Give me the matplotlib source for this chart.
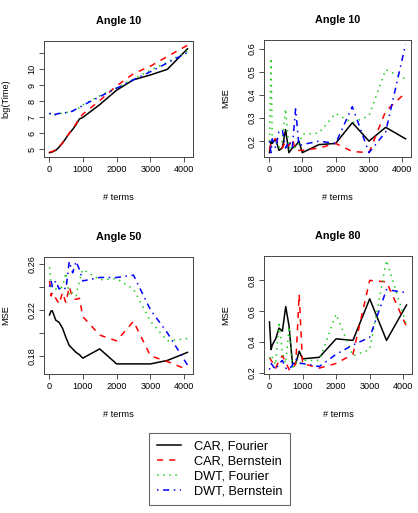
import matplotlib
matplotlib.use("Agg")
import matplotlib.pyplot as plt

plt.rcParams['font.family'] = ['Liberation Sans', 'DejaVu Sans']

terms = [16, 64, 100, 200, 300, 400, 500, 600, 700, 800, 900, 1000, 1500, 2000, 2500, 3000, 3500, 4096]
series_labels = ["CAR, Fourier", "CAR, Bernstein", "DWT, Fourier", "DWT, Bernstein"]

# Panel 1: Angle 10, log(Time)
time_car_fourier = [4.8, 4.82, 4.85, 4.95, 5.15, 5.4, 5.7, 6.0, 6.25, 6.55, 6.9, 7.0, 7.8, 8.7, 9.35, 9.65, 10.0, 11.28]
time_car_bern = [4.85, 4.85, 4.88, 4.98, 5.18, 5.42, 5.72, 6.02, 6.3, 6.6, 6.95, 7.2, 8.05, 8.97, 9.73, 10.2, 10.8, 11.5]
time_dwt_fourier = [7.26, 7.15, 7.1, 7.18, 7.22, 7.27, 7.3, 7.33, 7.4, 7.5, 7.6, 7.78, 8.35, 8.85, 9.4, 9.95, 10.45, 11.15]
time_dwt_bern = [7.28, 7.16, 7.12, 7.2, 7.25, 7.28, 7.3, 7.33, 7.4, 7.52, 7.62, 7.75, 8.3, 8.82, 9.35, 9.85, 10.4, 11.05]

# Panel 2: Angle 10, MSE
a10_car_fourier = [0.15, 0.2, 0.19, 0.21, 0.16, 0.17, 0.25, 0.15, 0.17, 0.18, 0.2, 0.15, 0.185, 0.19, 0.28, 0.2, 0.26, 0.21]
a10_car_bern = [0.16, 0.19, 0.2, 0.21, 0.18, 0.17, 0.2, 0.18, 0.21, 0.16, 0.16, 0.16, 0.17, 0.19, 0.155, 0.15, 0.33, 0.41]
a10_dwt_fourier = [0.2, 0.56, 0.2, 0.2, 0.17, 0.2, 0.34, 0.17, 0.18, 0.17, 0.19, 0.23, 0.235, 0.32, 0.28, 0.31, 0.51, 0.47]
a10_dwt_bern = [0.2, 0.15, 0.21, 0.17, 0.24, 0.25, 0.17, 0.2, 0.17, 0.34, 0.18, 0.185, 0.2, 0.19, 0.35, 0.15, 0.24, 0.62]

# Panel 3: Angle 50, MSE
a50_car_fourier = [0.2155, 0.219, 0.219, 0.211, 0.209, 0.204, 0.196, 0.189, 0.186, 0.183, 0.181, 0.178, 0.186, 0.173, 0.173, 0.173, 0.176, 0.183]
a50_car_bern = [0.245, 0.232, 0.235, 0.23, 0.225, 0.235, 0.226, 0.24, 0.23, 0.229, 0.23, 0.214, 0.198, 0.193, 0.21, 0.18, 0.175, 0.168]
a50_dwt_fourier = [0.257, 0.24, 0.24, 0.238, 0.238, 0.24, 0.252, 0.232, 0.235, 0.232, 0.245, 0.255, 0.246, 0.247, 0.238, 0.21, 0.193, 0.195]
a50_dwt_bern = [0.24, 0.245, 0.24, 0.245, 0.238, 0.24, 0.238, 0.262, 0.252, 0.262, 0.255, 0.245, 0.248, 0.248, 0.25, 0.22, 0.2, 0.172]

# Panel 4: Angle 80, MSE
a80_car_fourier = [0.53, 0.35, 0.38, 0.42, 0.49, 0.47, 0.63, 0.5, 0.26, 0.26, 0.34, 0.29, 0.3, 0.42, 0.41, 0.68, 0.41, 0.64]
a80_car_bern = [0.3, 0.28, 0.27, 0.23, 0.28, 0.31, 0.27, 0.22, 0.22, 0.26, 0.71, 0.26, 0.23, 0.26, 0.32, 0.8, 0.79, 0.5]
a80_dwt_fourier = [0.3, 0.28, 0.3, 0.25, 0.53, 0.33, 0.26, 0.5, 0.22, 0.27, 0.25, 0.28, 0.28, 0.58, 0.31, 0.35, 0.93, 0.51]
a80_dwt_bern = [0.22, 0.26, 0.25, 0.22, 0.26, 0.28, 0.23, 0.22, 0.25, 0.29, 0.26, 0.26, 0.24, 0.32, 0.38, 0.43, 0.74, 0.72]

panels = [
    ("Angle 10", "log(Time)", [time_car_fourier, time_car_bern, time_dwt_fourier, time_dwt_bern],
     [5, 6, 7, 8, 9, 10, 11], ["5", "6", "7", "8", "9", "10", ""]),
    ("Angle 10", "MSE", [a10_car_fourier, a10_car_bern, a10_dwt_fourier, a10_dwt_bern],
     [0.2, 0.3, 0.4, 0.5, 0.6], ["0.2", "0.3", "0.4", "0.5", "0.6"]),
    ("Angle 50", "MSE", [a50_car_fourier, a50_car_bern, a50_dwt_fourier, a50_dwt_bern],
     [0.18, 0.20, 0.22, 0.24, 0.26], ["0.18", "", "0.22", "", "0.26"]),
    ("Angle 80", "MSE", [a80_car_fourier, a80_car_bern, a80_dwt_fourier, a80_dwt_bern],
     [0.2, 0.4, 0.6, 0.8], ["0.2", "0.4", "0.6", "0.8"]),
]

W, H = 418, 513
# pixel boxes: left, top, right, bottom
boxes = [(44, 41, 193, 157), (264, 40, 411, 157), (44, 257, 193, 374), (264, 256, 412, 374)]

colors = ["black", "#FF0000", "#22CC22", "#0000FF"]
styles = ["-", (0, (4, 4)), (0, (1, 3)), (0, (1, 3, 4, 3))]
lw = 1.1

fig = plt.figure(figsize=(W / 100, H / 100), dpi=100)
fs = 6.6
handles = None
for (title, ylab, ser, yt, ytl), (l, t, r, b) in zip(panels, boxes):
    ax = fig.add_axes([l / W, 1 - b / H, (r - l) / W, (b - t) / H])
    hs = []
    for s, c, ls in zip(ser, colors, styles):
        h, = ax.plot(terms, s, color=c, linestyle=ls, lw=lw)
        hs.append(h)
    handles = hs
    allv = [v for s in ser for v in s]
    lo, hi = min(allv), max(allv)
    pad = (hi - lo) * 0.04
    ax.set_ylim(lo - pad, hi + pad)
    xpad = (4096 - 16) * 0.04
    ax.set_xlim(16 - xpad, 4096 + xpad)
    ax.set_xticks([0, 1000, 2000, 3000, 4000])
    ax.set_yticks(yt)
    ax.set_yticklabels(ytl, rotation=90, va='center')
    ax.tick_params(labelsize=fs, length=3.5, width=0.6, color='#333333', pad=2)
    for sp in ax.spines.values():
        sp.set_color('#444444')
        sp.set_linewidth(0.7)
    ax.set_title(title, fontsize=7.8, fontweight='bold', pad=12)
    ax.set_xlabel("# terms", fontsize=fs, labelpad=14)
    ax.set_ylabel(ylab, fontsize=fs, labelpad=12)

leg = fig.legend(handles, series_labels, loc='upper left',
                 bbox_to_anchor=(149 / W, 1 - 433 / H), fontsize=9.2,
                 frameon=True, fancybox=False, edgecolor='#444444',
                 handlelength=1.9, handletextpad=1.0, labelspacing=0.22,
                 borderpad=0.6, borderaxespad=0)
leg.get_frame().set_linewidth(0.8)

fig.savefig("out.png", dpi=100)
